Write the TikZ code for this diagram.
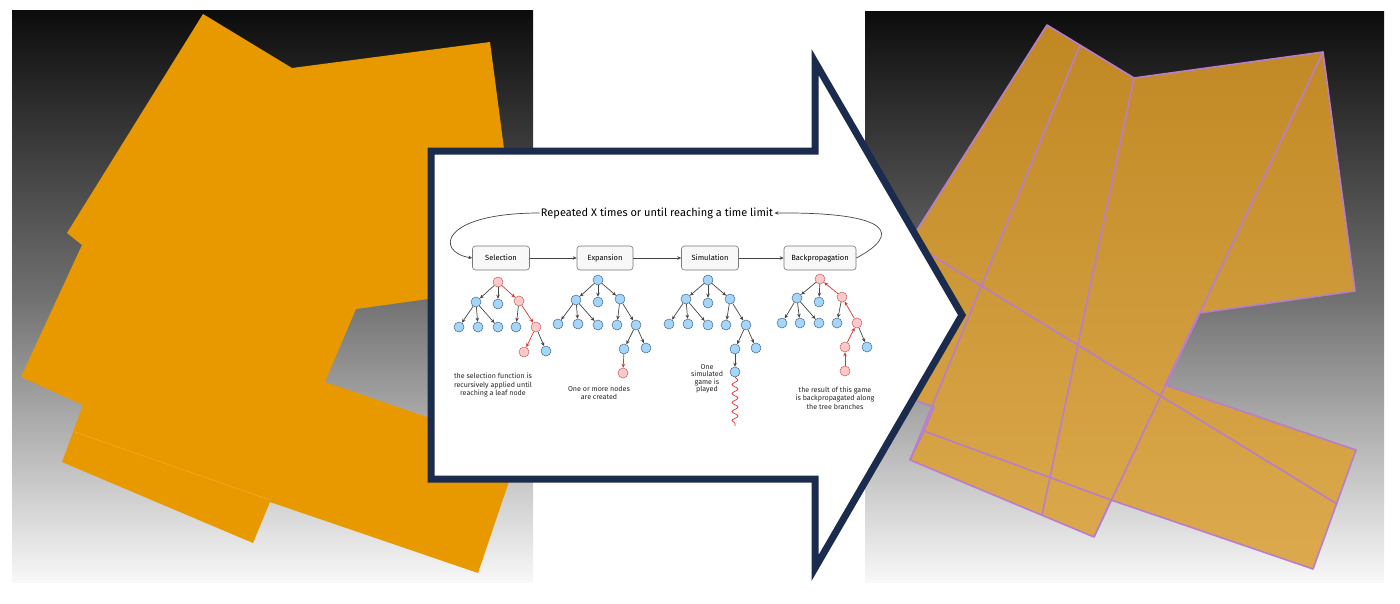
\documentclass[tikz,border=0pt]{standalone}
\usepackage{fontspec}
\newfontfamily\sketchfont{Fira Sans}
\usetikzlibrary{arrows.meta, decorations.pathmorphing}

\definecolor{panelTop}{RGB}{12,12,12}
\definecolor{panelMid}{RGB}{112,112,112}
\definecolor{panelBot}{RGB}{248,248,248}
\definecolor{orangeA}{RGB}{232,153,0}
\definecolor{orangeSeam}{RGB}{246,172,30}
\definecolor{ochreTop}{RGB}{192,136,35}
\definecolor{ochreBot}{RGB}{220,170,78}
\definecolor{creaseViolet}{RGB}{185,125,205}
\definecolor{arrowNavy}{RGB}{27,43,77}
\definecolor{nodeBlue}{RGB}{165,214,250}
\definecolor{nodeBlueLine}{RGB}{70,105,140}
\definecolor{nodePink}{RGB}{255,201,201}
\definecolor{nodePinkLine}{RGB}{190,95,95}
\definecolor{edgeRed}{RGB}{224,49,49}
\definecolor{edgeGray}{RGB}{70,70,70}
\definecolor{boxFill}{RGB}{248,248,248}
\definecolor{boxLine}{RGB}{120,120,120}

\begin{document}
\begin{tikzpicture}[x=1pt, y=-1pt, thick,
  panel/.style={top color=panelTop, bottom color=panelBot, middle color=panelMid},
  crease/.style={draw=creaseViolet, line width=1.6pt, line join=round},
  stagebox/.style={draw=boxLine, fill=boxFill, rounded corners=3pt, line width=0.6pt,
    minimum height=24pt, inner sep=1pt, font=\sketchfont\fontsize{7.5}{8}\selectfont},
  bnode/.style={circle, draw=nodeBlueLine, fill=nodeBlue, line width=0.5pt,
    minimum size=10pt, inner sep=0pt},
  pnode/.style={bnode, draw=nodePinkLine, fill=nodePink},
  gedge/.style={draw=edgeGray, line width=0.7pt, -{Stealth[length=4pt,width=3.5pt]}},
  redge/.style={gedge, draw=edgeRed},
  note/.style={align=center, text=black!85, font=\sketchfont\fontsize{7.1}{8.5}\selectfont},
]
\useasboundingbox (0,0) rectangle (1400,603);

%% ── Flat sheets (left) ────────────────────────
\shade[panel] (12,10) rectangle (533,582);
\fill[orangeA] (203,14) -- (292,68) -- (490,42) -- (522,286) -- (356,309)
      -- (325,382) -- (520,449) -- (478,573) -- (270,502) -- (253,543)
      -- (62,462) -- (83,405) -- (21,377) -- (82,245) -- (67,233) -- cycle;
\draw[orangeSeam, line width=0.6pt] (75,432) -- (270,500);

%% ── Creased sheets (right) ────────────────────
\shade[panel] (865,11) rectangle (1384,582);
\shadedraw[top color=ochreTop, bottom color=ochreBot, crease]
      (1047,25) -- (1134,78) -- (1323,52) -- (1355,291) -- (1199,313)
      -- (1165,385) -- (1356,450) -- (1313,569) -- (1111,500) -- (1094,537)
      -- (910,460) -- (924,431) -- (934,407) -- (880,388) -- (880,280)
      -- (898,260) -- cycle;
\draw[crease] (905,239) -- (1337,504);
\draw[crease] (1080,45) -- (910,460);
\draw[crease] (1134,78) -- (1042,515);
\draw[crease] (1323,52) -- (1094,537);
\draw[crease] (924,431) -- (1111,500);

%% ── Big arrow ─────────────────────────────────
\draw[arrowNavy, fill=white, line width=7pt]
      (431,151) -- (815,151) -- (815,62) -- (962,315) -- (815,568)
      -- (815,479) -- (431,479) -- cycle;

%% ── MCTS loop inside the arrow ────────────────
\node[font=\sketchfont\fontsize{11}{12}\selectfont, inner sep=1pt] (title) at (657,213)
      {Repeated X times or until reaching a time limit};

\node[stagebox, minimum width=57pt] (sel) at (501,258) {Selection};
\node[stagebox, minimum width=56pt] (exp) at (605,258) {Expansion};
\node[stagebox, minimum width=57pt] (sim) at (710,258) {Simulation};
\node[stagebox, minimum width=72pt] (bak) at (820,258) {Backpropagation};

\draw[gedge] (sel) -- (exp);
\draw[gedge] (exp) -- (sim);
\draw[gedge] (sim) -- (bak);
\draw[gedge] (title.west) .. controls (440,213) and (435,252) .. (sel.west);
\draw[gedge] (bak.east) .. controls (900,235) and (895,212) .. (title.east);

% Selection tree
\node[pnode] (s0) at (498,282) {};
\node[bnode] (s1) at (476,302) {};
\node[bnode] (s2) at (498,304) {};
\node[pnode] (s3) at (519,301) {};
\node[bnode] (s4) at (459,327) {};
\node[bnode] (s5) at (478,327) {};
\node[bnode] (s6) at (498,327) {};
\node[bnode] (s7) at (516,327) {};
\node[pnode] (s8) at (536,327) {};
\node[pnode] (s9) at (524,352) {};
\node[bnode] (s10) at (546,351) {};
\draw[gedge] (s0) -- (s1);
\draw[gedge] (s0) -- (s2);
\draw[redge] (s0) -- (s3);
\draw[gedge] (s1) -- (s4);
\draw[gedge] (s1) -- (s5);
\draw[gedge] (s1) -- (s6);
\draw[gedge] (s3) -- (s7);
\draw[redge] (s3) -- (s8);
\draw[redge] (s8) -- (s9);
\draw[gedge] (s8) -- (s10);

% Expansion tree
\node[bnode] (e0) at (598,280) {};
\node[bnode] (e1) at (576,300) {};
\node[bnode] (e2) at (598,302) {};
\node[bnode] (e3) at (620,299) {};
\node[bnode] (e4) at (558,324) {};
\node[bnode] (e5) at (578,324) {};
\node[bnode] (e6) at (598,325) {};
\node[bnode] (e7) at (617,325) {};
\node[bnode] (e8) at (636,325) {};
\node[bnode] (e9) at (624,349) {};
\node[bnode] (e10) at (646,348) {};
\node[pnode] (e11) at (623,373) {};
\draw[gedge] (e0) -- (e1);
\draw[gedge] (e0) -- (e2);
\draw[gedge] (e0) -- (e3);
\draw[gedge] (e1) -- (e4);
\draw[gedge] (e1) -- (e5);
\draw[gedge] (e1) -- (e6);
\draw[gedge] (e3) -- (e7);
\draw[gedge] (e3) -- (e8);
\draw[gedge] (e8) -- (e9);
\draw[gedge] (e8) -- (e10);
\draw[redge] (e9) -- (e11);

% Simulation tree
\node[bnode] (m0) at (708,280) {};
\node[bnode] (m1) at (686,299) {};
\node[bnode] (m2) at (708,303) {};
\node[bnode] (m3) at (730,299) {};
\node[bnode] (m4) at (669,324) {};
\node[bnode] (m5) at (688,324) {};
\node[bnode] (m6) at (708,325) {};
\node[bnode] (m7) at (726,325) {};
\node[bnode] (m8) at (746,325) {};
\node[bnode] (m9) at (735,349) {};
\node[bnode] (m10) at (756,348) {};
\node[bnode] (m11) at (735,372) {};
\coordinate (mend) at (735,426);
\draw[gedge] (m0) -- (m1);
\draw[gedge] (m0) -- (m2);
\draw[gedge] (m0) -- (m3);
\draw[gedge] (m1) -- (m4);
\draw[gedge] (m1) -- (m5);
\draw[gedge] (m1) -- (m6);
\draw[gedge] (m3) -- (m7);
\draw[gedge] (m3) -- (m8);
\draw[gedge] (m8) -- (m9);
\draw[gedge] (m8) -- (m10);
\draw[gedge] (m9) -- (m11);
\draw[edgeRed, line width=0.7pt, decorate,
      decoration={snake, amplitude=3pt, segment length=9pt}] (m11) -- (mend);

% Backpropagation tree
\node[pnode] (b0) at (820,279) {};
\node[bnode] (b1) at (797,298) {};
\node[bnode] (b2) at (819,302) {};
\node[pnode] (b3) at (842,297) {};
\node[bnode] (b4) at (782,323) {};
\node[bnode] (b5) at (800,323) {};
\node[bnode] (b6) at (819,323) {};
\node[bnode] (b7) at (837,323) {};
\node[pnode] (b8) at (857,323) {};
\node[pnode] (b9) at (845,347) {};
\node[bnode] (b10) at (867,347) {};
\node[pnode] (b11) at (845,371) {};
\draw[gedge] (b0) -- (b1);
\draw[gedge] (b0) -- (b2);
\draw[redge] (b3) -- (b0);
\draw[gedge] (b1) -- (b4);
\draw[gedge] (b1) -- (b5);
\draw[gedge] (b1) -- (b6);
\draw[gedge] (b3) -- (b7);
\draw[redge] (b8) -- (b3);
\draw[redge] (b9) -- (b8);
\draw[gedge] (b8) -- (b10);
\draw[redge] (b11) -- (b9);

% captions
\node[note] (selnote) at (493,385) {the selection function is\\recursively applied until\\reaching a leaf node};
\node[note] (expnote) at (599,393) {One or more nodes\\are created};
\node[note, font=\sketchfont\fontsize{7.1}{7.5}\selectfont] (simnote) at (707,379) {One\\simulated\\game is\\played};
\node[note] (baknote) at (835,398) {the result of this game\\is backpropagated along\\the tree branches};

\end{tikzpicture}
\end{document}
